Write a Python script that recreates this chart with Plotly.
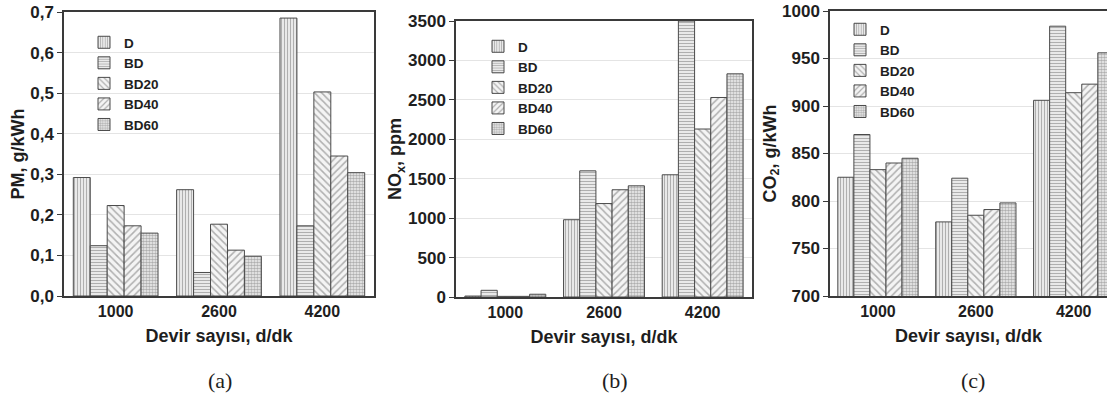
import plotly.graph_objects as go

# ---------------- data ----------------
speeds = ["1000", "2600", "4200"]
fuels = ["D", "BD", "BD20", "BD40", "BD60"]

PM_D = [0.292, 0.262, 0.685]
PM_BD = [0.124, 0.058, 0.173]
PM_BD20 = [0.223, 0.177, 0.503]
PM_BD40 = [0.173, 0.113, 0.345]
PM_BD60 = [0.155, 0.098, 0.304]

NOX_D = [12, 980, 1550]
NOX_BD = [85, 1600, 3500]
NOX_BD20 = [8, 1185, 2130]
NOX_BD40 = [8, 1360, 2530]
NOX_BD60 = [35, 1410, 2830]

CO2_D = [825, 778, 906]
CO2_BD = [870, 824, 984]
CO2_BD20 = [833, 785, 914]
CO2_BD40 = [840, 791, 923]
CO2_BD60 = [845, 798, 956]

pm_tickvals = [0, 0.1, 0.2, 0.3, 0.4, 0.5, 0.6, 0.7]
pm_ticktext = ["0,0", "0,1", "0,2", "0,3", "0,4", "0,5", "0,6", "0,7"]
nox_tickvals = [0, 500, 1000, 1500, 2000, 2500, 3000, 3500]
nox_ticktext = ["0", "500", "1000", "1500", "2000", "2500", "3000", "3500"]
co2_tickvals = [700, 750, 800, 850, 900, 950, 1000]
co2_ticktext = ["700", "750", "800", "850", "900", "950", "1000"]

panels = [
    [PM_D, PM_BD, PM_BD20, PM_BD40, PM_BD60],
    [NOX_D, NOX_BD, NOX_BD20, NOX_BD40, NOX_BD60],
    [CO2_D, CO2_BD, CO2_BD20, CO2_BD40, CO2_BD60],
]

# ---------------- styles ----------------
W, H = 1107, 397
patterns = {
    "D": dict(shape="|", size=3, solidity=0.45),
    "BD": dict(shape="-", size=3, solidity=0.45),
    "BD20": dict(shape="\\", size=5, solidity=0.3),
    "BD40": dict(shape="/", size=5, solidity=0.3),
    "BD60": dict(shape=".", size=3, solidity=0.6),
}
FONT = "Liberation Sans"
AX = "#3a3a3a"
TXT = "#1e1e1e"
fig = go.Figure()

axis_ids = ["", "2", "3"]
legend_ids = ["legend", "legend2", "legend3"]
for p, vals in enumerate(panels):
    for name, y in zip(fuels, vals):
        pat = patterns[name]
        fig.add_trace(go.Bar(
            x=speeds, y=y, name=name,
            xaxis="x" + axis_ids[p], yaxis="y" + axis_ids[p],
            legend=legend_ids[p],
            marker=dict(color="white",
                        line=dict(color="#4a4a4a", width=1),
                        pattern=dict(shape=pat["shape"], size=pat["size"],
                                     solidity=pat["solidity"], fgcolor="#6a6a6a",
                                     bgcolor="#f4f4f4")),
        ))

def px_x(a, b):
    return [a / W, b / W]

def px_y(top, bottom):
    return [1 - bottom / H, 1 - top / H]

xdom = [px_x(64, 374), px_x(456, 752), px_x(830, 1107)]
ydom = [px_y(12, 296), px_y(21, 297), px_y(11, 296)]
xranges = [[-0.5, 2.5], [-0.5, 2.5], [-0.49, 2.34]]
yranges = [[0, 0.7], [0, 3500], [700, 1000]]
ytv = [pm_tickvals, nox_tickvals, co2_tickvals]
ytt = [pm_ticktext, nox_ticktext, co2_ticktext]
ytitles = ["PM, g/kWh", "NO<sub>x</sub>, ppm", "CO<sub>2</sub>, g/kWh"]

layout = dict(
    width=W, height=H,
    margin=dict(l=0, r=0, t=0, b=0, autoexpand=False),
    paper_bgcolor="white", plot_bgcolor="white",
    barmode="group", bargap=0.18, bargroupgap=0,
    font=dict(family=FONT, color=TXT),
)

for p in range(3):
    xa = dict(
        domain=xdom[p], range=xranges[p], type="category",
        anchor="y" + axis_ids[p], automargin=False,
        showline=True, linecolor=AX, linewidth=1.5, mirror=True,
        ticks="", showgrid=False,
        tickfont=dict(family=FONT, size=16, weight="bold", color=TXT),
        title=dict(text="Devir sayısı, d/dk", standoff=10,
                   font=dict(family=FONT, size=18, weight="bold", color=TXT)),
    )
    ya = dict(
        domain=ydom[p], range=yranges[p],
        anchor="x" + axis_ids[p], automargin=False,
        showline=True, linecolor=AX, linewidth=1.5,
        mirror=(p < 2),
        ticks="outside", ticklen=5, tickcolor=AX, tickwidth=1.2,
        tickvals=ytv[p], ticktext=ytt[p],
        showgrid=True, gridcolor="#e4e4e4", gridwidth=1,
        zeroline=False,
        tickfont=dict(family=FONT, size=17, weight="bold", color=TXT),
        title=dict(text=ytitles[p], standoff=1,
                   font=dict(family=FONT, size=18, weight="bold", color=TXT)),
    )
    layout["xaxis" + axis_ids[p]] = xa
    layout["yaxis" + axis_ids[p]] = ya

# inward ticks on the right frame of panels (a) and (b)
for p, extra in [(0, "4"), (1, "5")]:
    layout["yaxis" + extra] = dict(
        overlaying="y" + axis_ids[p], side="right", anchor="x" + axis_ids[p],
        range=yranges[p], tickvals=ytv[p], showticklabels=False,
        ticks="inside", ticklen=5, tickcolor=AX, tickwidth=1.2,
        showgrid=False, zeroline=False, showline=False, automargin=False,
    )

leg_pos = [(84, 27), (478, 31), (840, 14)]
for p in range(3):
    lx, ly = leg_pos[p]
    layout[legend_ids[p]] = dict(
        x=lx / W, y=1 - ly / H, xanchor="left", yanchor="top",
        bgcolor="rgba(0,0,0,0)", borderwidth=0,
        font=dict(family=FONT, size=13.5, weight="bold", color=TXT),
        tracegroupgap=0, itemwidth=30,
    )

captions = ["(a)", "(b)", "(c)"]
cap_x = [220, 615, 973]
annotations = []
for c, cx in zip(captions, cap_x):
    annotations.append(dict(
        text=c, x=cx / W, y=1 - 380 / H, xref="paper", yref="paper",
        xanchor="center", yanchor="middle", showarrow=False,
        font=dict(family="Liberation Serif", size=22, color=TXT),
    ))
layout["annotations"] = annotations

fig.update_layout(**layout)
fig.write_html(
    "out.html",
    config={"displayModeBar": False},
    post_script="document.body.style.margin='0';document.body.style.overflow='hidden';",
)
